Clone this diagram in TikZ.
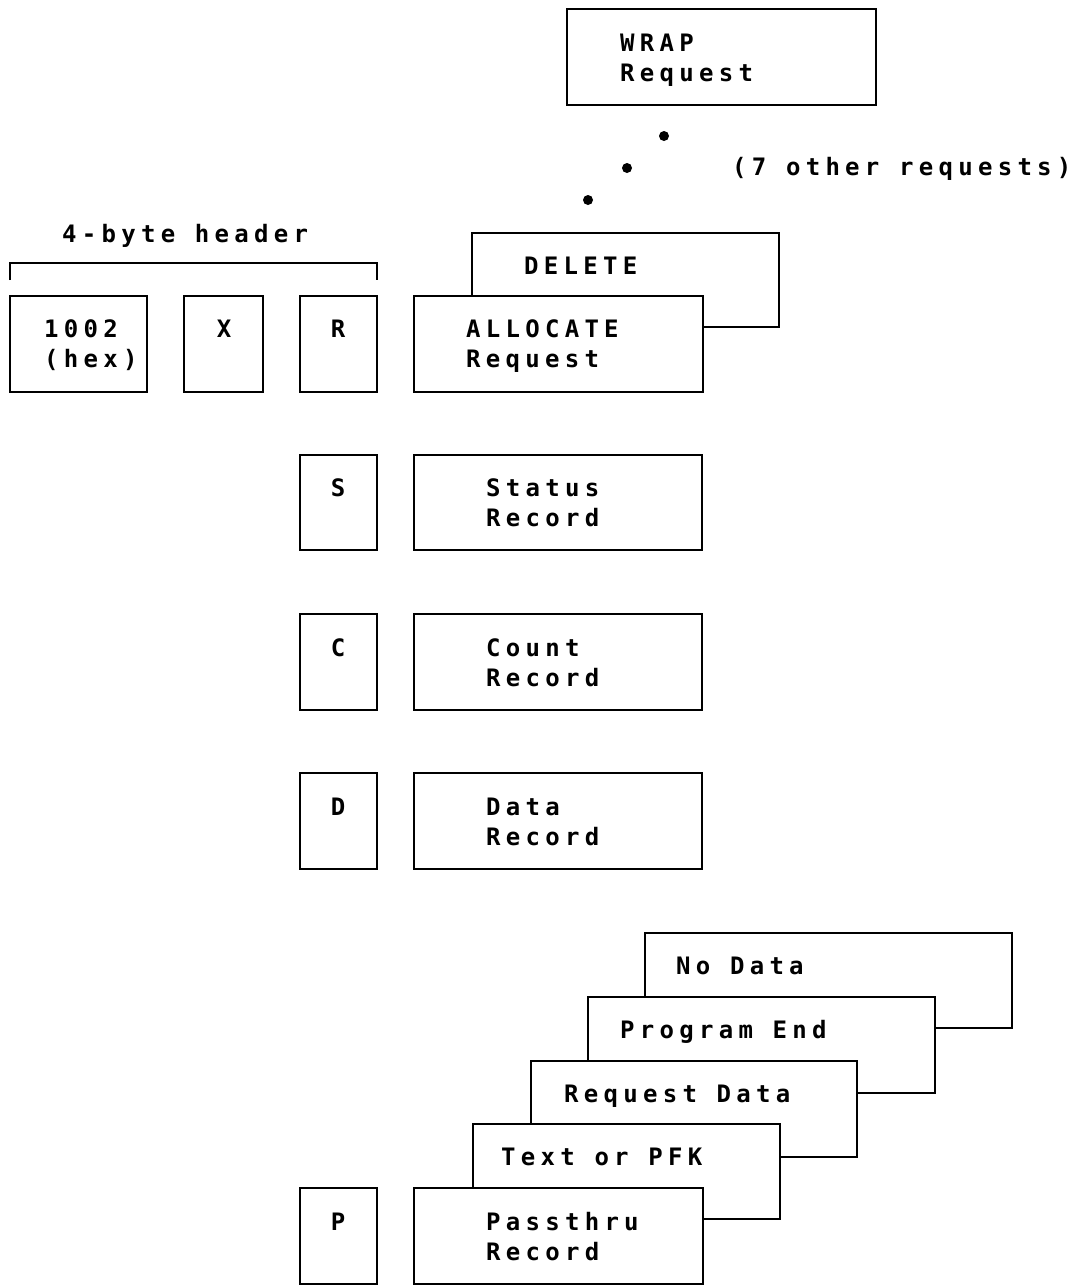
\documentclass[tikz,border=0pt]{standalone}
\usepackage{fontspec}
\newfontfamily\dm{DejaVu Sans Mono}[LetterSpace=22]
\newfontfamily\dmc{DejaVu Sans Mono}
\begin{document}
\begin{tikzpicture}[x=1pt,y=-1pt,line width=2.3pt,
  box/.style={draw,fill=white,anchor=north west,inner sep=0pt,outer sep=0pt},
  lbl/.style={font=\dm\bfseries\fontsize{24}{30}\selectfont,anchor=base west,inner sep=0pt},
  ltr/.style={font=\dmc\bfseries\fontsize{24}{30}\selectfont,anchor=base,inner sep=0pt}]
\useasboundingbox (0,0) rectangle (1079,1286);
% top request stack
\node[box,minimum width=309pt,minimum height=96pt] (wrap) at (567,9) {};
\node[lbl] (wrapa) at (619,51) {WRAP};
\node[lbl] (wrapb) at (619,81) {Request};
\fill (664,136) circle (5pt);
\fill (627,168) circle (5pt);
\fill (588,200) circle (5pt);
\node[lbl] (other) at (731,175) {(7 other requests)};
\node[box,minimum width=307pt,minimum height=94pt] (del) at (472,233) {};
\node[lbl] (dela) at (523,274) {DELETE};
\node[box,minimum width=289pt,minimum height=96pt] (alloc) at (414,296) {};
\node[lbl] (alloca) at (465,337) {ALLOCATE};
\node[lbl] (allocb) at (465,367) {Request};
% header
\node[lbl] (hdr) at (61,242) {4-byte header};
\node[box,minimum width=137pt,minimum height=96pt] (h1002) at (10,296) {};
\node[lbl] (h1002a) at (43,337) {1002};
\node[lbl] (h1002b) at (43,367) {(hex)};
\node[box,minimum width=79pt,minimum height=96pt] (hx) at (184,296) {};
\node[ltr] (hxa) at (224,337) {X};
\node[box,minimum width=77pt,minimum height=96pt] (hr) at (300,296) {};
\node[ltr] (hra) at (338,337) {R};
\draw ([yshift=16pt]h1002.north west) -- ([yshift=33pt]h1002.north west) -| ([yshift=16pt]hr.north east);
% S
\node[box,minimum width=77pt,minimum height=95pt] (hs) at (300,455) {};
\node[ltr] (hsa) at (338,496) {S};
\node[box,minimum width=288pt,minimum height=95pt] (stat) at (414,455) {};
\node[lbl] (stata) at (485,496) {Status};
\node[lbl] (statb) at (485,526) {Record};
% C
\node[box,minimum width=77pt,minimum height=96pt] (hc) at (300,614) {};
\node[ltr] (hca) at (338,656) {C};
\node[box,minimum width=288pt,minimum height=96pt] (cnt) at (414,614) {};
\node[lbl] (cnta) at (485,656) {Count};
\node[lbl] (cntb) at (485,686) {Record};
% D
\node[box,minimum width=77pt,minimum height=96pt] (hd) at (300,773) {};
\node[ltr] (hda) at (338,815) {D};
\node[box,minimum width=288pt,minimum height=96pt] (dat) at (414,773) {};
\node[lbl] (data) at (485,815) {Data};
\node[lbl] (datb) at (485,845) {Record};
% passthru stack
\node[box,minimum width=367pt,minimum height=95pt] (nod) at (645,933) {};
\node[lbl] (noda) at (675,974) {No Data};
\node[box,minimum width=347pt,minimum height=96pt] (pge) at (588,997) {};
\node[lbl] (pgea) at (619,1038) {Program End};
\node[box,minimum width=326pt,minimum height=96pt] (rqd) at (531,1061) {};
\node[lbl] (rqda) at (563,1102) {Request Data};
\node[box,minimum width=307pt,minimum height=95pt] (txt) at (473,1124) {};
\node[lbl] (txta) at (500,1165) {Text or PFK};
\node[box,minimum width=289pt,minimum height=96pt] (pas) at (414,1188) {};
\node[lbl] (pasa) at (485,1230) {Passthru};
\node[lbl] (pasb) at (485,1260) {Record};
\node[box,minimum width=77pt,minimum height=96pt] (hp) at (300,1188) {};
\node[ltr] (hpa) at (338,1230) {P};
\end{tikzpicture}
\end{document}
